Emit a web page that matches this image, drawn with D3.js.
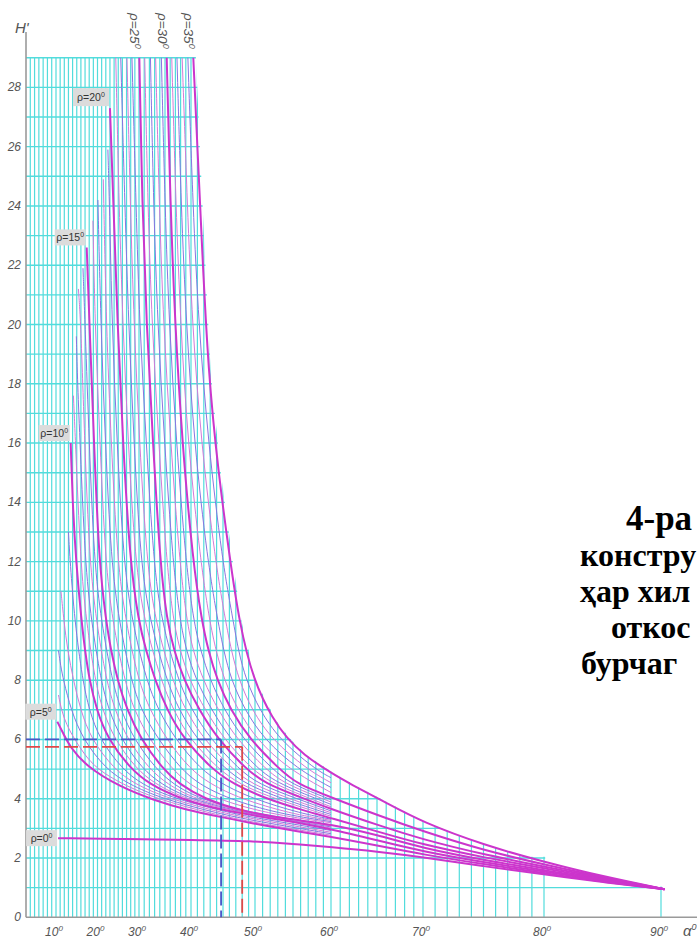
<!DOCTYPE html>
<html><head><meta charset="utf-8">
<script src="https://cdn.jsdelivr.net/npm/d3@7"></script>
<style>body{margin:0;background:#fff;overflow:hidden}svg{display:block}</style>
</head><body>
<svg id="c" width="697" height="940"></svg>
<script>
// ---------- data ----------
const xTicks = [10,20,30,40,50,60,70,80,90];
const yTicks = [0,2,4,6,8,10,12,14,16,18,20,22,24,26,28];
const gridAlphas = d3.range(4, 81).concat([90]);
const gridHeights = d3.range(1, 30);

// bold curves [alpha, H]
const rho0  = [[10.5,2.67],[27.4,2.64],[40,2.61],[49.7,2.57],[55,2.48],[60,2.37],[65,2.22],[70,2.03],[75,1.72],[80,1.45],[85,1.18],[90.3,0.95]];
const rho5  = [[10.31,6.6],[11.76,6.2],[13.37,5.75],[17.4,5.08],[25.42,4.4],[32.75,3.96],[39.17,3.62],[44.53,3.39],[51.97,3.05],[60,2.72],[65,2.42],[70,2.12],[75,1.79],[80,1.49],[85,1.2],[90.3,0.95]];
const rho10 = [[13.54,16],[14.0,14],[14.82,12],[16.14,10],[16.99,9],[18.07,8],[19.76,7],[22.53,6],[28.07,5],[31.92,4.5],[37.88,4],[44.84,3.6],[53.29,3.3],[60,2.98],[65,2.6],[70,2.22],[75,1.86],[80,1.54],[85,1.23],[90.3,0.95]];
const rho15 = [[17.4,22.6],[18.07,20],[19.16,16],[20.36,12],[22.05,10],[23.25,9],[24.82,8],[27.11,7],[30.38,6],[34.62,5],[37.69,4.5],[42.03,4.0],[47.66,3.6],[53.95,3.32],[60,3.15],[65,2.78],[70,2.33],[75,1.93],[80,1.59],[85,1.26],[90.3,0.95]];
const rho20 = [[23.0,27.3],[23.86,24],[24.82,20],[26.14,16],[27.83,12],[29.88,10],[31.35,9],[33.08,8],[35.38,7],[38.65,6],[43.28,5],[46.56,4.5],[51.45,4.0],[56.45,3.6],[60,3.35],[65,2.9],[70,2.45],[75,2.02],[80,1.65],[85,1.29],[90.3,0.95]];
const rho25 = [[30.06,29],[30.63,24],[31.44,20],[32.69,16],[34.04,12],[35.38,10],[36.73,9],[38.65,8],[41.25,7],[44.22,6],[48.59,5],[51.45,4.5],[55.5,4.1],[60,3.65],[65,3.12],[70,2.62],[75,2.12],[80,1.71],[85,1.32],[90.3,0.95]];
const rho30 = [[35.33,29],[36.04,24],[36.94,20],[38.31,16],[40.3,12],[41.69,10],[42.7,9],[44.09,8],[46.17,7],[49.19,6],[53.21,5],[55.5,4.5],[60,4.05],[65,3.45],[70,2.9],[75,2.26],[80,1.78],[85,1.35],[90.3,0.95]];
const rho35 = [[40.36,29],[41.0,26],[41.67,22.84],[42.7,18.36],[44.27,15],[46.1,12.06],[47.5,10],[49.7,8],[52.4,6.66],[54.2,6.05],[56.3,5.5],[60,4.87],[62.1,4.5],[66,3.86],[70,3.2],[75,2.44],[80,1.87],[85,1.38],[90.3,0.95]];

// thin curves (intermediate rho, 1 degree step)
const thin6  = [[10.6,7.5],[11.3,7],[12.5,6.5],[14.5,6],[16.8,5.5],[19.9,5],[25.8,4.5],[33.3,4],[43.1,3.5],[50,3.19],[60,2.77]];
const thin7  = [[10.6,9],[11.1,8.5],[11.8,8],[13.6,7],[16.5,6],[22,5],[27.4,4.5],[34.4,4],[44.3,3.5],[50,3.25],[60,2.82]];
const thin8  = [[11.2,11],[11.9,10],[12.8,9],[14.2,8],[15.9,7],[18.5,6],[24,5],[28.9,4.5],[35.6,4],[45.4,3.5],[50,3.31],[60,2.87]];
const thin9  = [[13,13],[13.4,12],[14.5,10],[16.4,8],[18,7],[20.5,6],[26,5],[30.4,4.5],[36.7,4],[46.6,3.5],[50,3.36],[60,2.93]];
const thin11 = [[14.2,17.6],[14.7,16],[15.9,12],[17.3,10],[19.4,8],[21.2,7],[24.1,6],[29.4,5],[33.1,4.5],[38.7,4],[48.1,3.5],[60,3.01]];
const thin12 = [[14.9,19.6],[15.2,18],[15.8,16],[17.0,12],[18.5,10],[20.8,8],[22.7,7],[25.7,6],[30.7,5],[34.2,4.5],[39.6,4],[48.6,3.5],[60,3.05]];
const thin13 = [[15.4,21.2],[16.0,20],[16.9,16],[18.1,12],[19.7,10],[22.1,8],[24.2,7],[27.2,6],[32,5],[35.4,4.5],[40.4,4],[49,3.5],[60,3.08]];
const thin14 = [[16.5,21.9],[17.0,20],[18.0,16],[19.2,12],[20.9,10],[23.5,8],[25.6,7],[28.8,6],[33.3,5],[36.5,4.5],[41.2,4],[49.5,3.5],[60,3.12]];
const thin16 = [[18.9,23.5],[19.4,20],[20.6,16],[21.9,12],[23.6,10],[26.5,8],[28.8,7],[32,6],[36.4,5],[39.5,4.5],[43.9,4],[51.5,3.5],[60,3.19]];
const thin17 = [[20.1,24.2],[20.8,20],[21.9,16],[23.3,12],[25.2,10],[28.1,8],[30.4,7],[33.7,6],[38.1,5],[41.2,4.5],[45.8,4],[53,3.5],[60,3.23]];
const thin18 = [[21.4,24.9],[22.1,20],[23.3,16],[24.8,12],[26.8,10],[29.8,8],[32.1,7],[35.3,6],[39.8,5],[43,4.5],[47.7,4],[54.6,3.5],[60,3.27]];
const thin19 = [[22.5,25.9],[22.9,24],[23.5,20],[24.7,16],[26.3,12],[28.3,10],[31.4,8],[33.7,7],[37,6],[41.5,5],[44.8,4.5],[49.6,4],[56.1,3.5],[60,3.31]];
const thin21 = [[24.4,29],[25.2,24],[26.1,20],[27.4,16],[29.1,12],[31,10],[34.2,8],[36.6,7],[39.8,6],[44.3,5],[47.5,4.5],[52.5,4],[60,3.41]];
const thin22 = [[25.6,29],[26.6,24],[27.5,20],[28.8,16],[30.3,12],[32.1,10],[35.3,8],[37.7,7],[40.9,6],[45.4,5],[48.5,4.5],[53.5,4],[60,3.47]];
const thin23 = [[27.1,29],[27.9,24],[28.8,20],[30.1,16],[31.5,12],[33.1,10],[36.4,8],[38.9,7],[42,6],[46.5,5],[49.4,4.5],[54.5,4],[60,3.53]];
const thin24 = [[28.3,29],[29.3,24],[30.1,20],[31.4,16],[32.8,12],[34.3,10],[37.5,8],[40.1,7],[43.1,6],[47.5,5],[50.4,4.5],[55.5,4],[60,3.59]];
const thin26 = [[31.1,29],[31.7,24],[32.5,20],[33.8,16],[35.3,12],[36.6,10],[37.9,9],[39.7,8],[42.2,7],[45.2,6],[49.5,5],[52.3,4.5],[60,3.73]];
const thin27 = [[32.2,29],[32.8,24],[33.6,20],[34.9,16],[36.5,12],[37.9,10],[39.1,9],[40.8,8],[43.2,7],[46.2,6],[50.4,5],[53.1,4.5],[60,3.81]];
const thin28 = [[33.2,29],[33.9,24],[34.7,20],[36.1,16],[37.8,12],[39.2,10],[40.3,9],[41.9,8],[44.2,7],[47.2,6],[51.4,5],[53.9,4.5],[60,3.89]];
const thin29 = [[34.3,29],[35.0,24],[35.8,20],[37.2,16],[39.0,12],[40.4,10],[41.5,9],[43.0,8],[45.2,7],[48.2,6],[52.3,5],[54.7,4.5],[60,3.97]];
const thin31 = [[36.3,29],[37.1,24],[38.0,20],[39.4,16],[41.5,12],[42.9,10],[43.9,9],[45.2,8],[47.3,7],[50.2,6],[54.4,5],[60,4.21]];
const thin32 = [[37.3,29],[38.1,24],[39.1,20],[40.5,16],[42.6,12],[44.2,10],[45.1,9],[46.3,8],[48.4,7],[51.2,6],[55.6,5],[60,4.38]];
const thin33 = [[38.3,29],[39.3,24],[40.2,20],[41.6,16],[43.8,12],[45.4,10],[46.3,9],[47.5,8],[49.5,7],[52.2,6],[56.8,5],[60,4.54]];
const thin34 = [[39.4,29],[40.3,24],[41.2,20],[42.7,16],[44.9,12],[46.6,10],[47.4,9],[48.6,8],[50.6,7],[53.2,6],[57.9,5],[60,4.71]];

const boldCurves = [
  {rho:0, pts:rho0}, {rho:5, pts:rho5}, {rho:10, pts:rho10}, {rho:15, pts:rho15},
  {rho:20, pts:rho20}, {rho:25, pts:rho25}, {rho:30, pts:rho30}, {rho:35, pts:rho35}];
const thinCurves = [
  {rho:6,pts:thin6},{rho:7,pts:thin7},{rho:8,pts:thin8},{rho:9,pts:thin9},
  {rho:11,pts:thin11},{rho:12,pts:thin12},{rho:13,pts:thin13},{rho:14,pts:thin14},
  {rho:16,pts:thin16},{rho:17,pts:thin17},{rho:18,pts:thin18},{rho:19,pts:thin19},
  {rho:21,pts:thin21},{rho:22,pts:thin22},{rho:23,pts:thin23},{rho:24,pts:thin24},
  {rho:26,pts:thin26},{rho:27,pts:thin27},{rho:28,pts:thin28},{rho:29,pts:thin29},
  {rho:31,pts:thin31},{rho:32,pts:thin32},{rho:33,pts:thin33},{rho:34,pts:thin34}];

const sideLabels = [0,5,10,15,20];   // boxed labels at curve starts
const topLabels = [25,30,35];        // rotated labels above the top line
const exampleBlue = {alpha:44.7, H:6.0};
const exampleRed  = {alpha:48.0, H:5.75};
const captionLines = ["4-ра","констру","ҳар хил","откос","бурчаг"];

// ---------- scales ----------
const x = d3.scaleLinear()
  .domain([3,10,20,30,40,50,60,70,80,90])
  .range([26,56,97.5,139,191,255,331,423,544,661]);
const y = d3.scaleLinear().domain([0,29]).range([917.3, 917.3-29*29.64]);

const svg = d3.select("#c");
const gridColor = "#52dcdc";

// ---------- grid clip (area under the outer curve) ----------
const defs = svg.append("defs");
const clip = defs.append("clipPath").attr("id","gridclip");
const edge = [[x(3), y(29)-1.5],[x(40.36)+2.5, y(29)-1.5]].concat(
  rho35.filter(d=>d[0]<=80 && d[1]<29).map(d=>[x(d[0])+2.5, y(d[1])]),
  [[x(80)+1, y(0)+2],[x(3), y(0)+2]]);
clip.append("path").attr("d", d3.line()(edge)+"Z");
clip.append("rect").attr("x",x(3)).attr("y",y(2)-1.2).attr("width",x(80)-x(3)+1.2).attr("height",y(0)-y(2)+3);
clip.append("rect").attr("x",x(3)).attr("y",y(1)-1.2).attr("width",x(90)-x(3)+1.2).attr("height",y(0)-y(1)+3);

const grid = svg.append("g").attr("clip-path","url(#gridclip)");
grid.selectAll("line.v").data(gridAlphas).join("line")
  .attr("x1",d=>x(d)).attr("x2",d=>x(d)).attr("y1",y(0)).attr("y2",y(29))
  .attr("stroke",gridColor).attr("stroke-width",1.2);
grid.selectAll("line.h").data(gridHeights).join("line")
  .attr("x1",x(3)).attr("x2",x(90.5)).attr("y1",d=>y(d)).attr("y2",d=>y(d))
  .attr("stroke",gridColor).attr("stroke-width",1.4);

// ---------- axes ----------
svg.append("line").attr("x1",x(3)).attr("x2",697).attr("y1",y(0)).attr("y2",y(0))
  .attr("stroke","#9a9a9a").attr("stroke-width",1.6);
svg.append("line").attr("x1",x(3)).attr("x2",x(3)).attr("y1",y(0)).attr("y2",32)
  .attr("stroke","#9a9a9a").attr("stroke-width",1.6);

const tickFont = "'Liberation Sans', Arial, sans-serif";
svg.selectAll("text.yt").data(yTicks).join("text")
  .attr("x",21).attr("y",d=>y(d)+4).attr("text-anchor","end")
  .attr("font-family",tickFont).attr("font-style","italic").attr("font-size",12)
  .attr("fill","#555").text(d=>d);

const xt = svg.selectAll("text.xt").data(xTicks).join("text")
  .attr("x",d=>x(d)-2).attr("y",936).attr("text-anchor","middle")
  .attr("font-family",tickFont).attr("font-style","italic").attr("font-size",12)
  .attr("fill","#555");
xt.append("tspan").text(d=>d);
xt.append("tspan").attr("dy",-5).attr("font-size",8).text("0");

const ax = svg.append("text").attr("x",683).attr("y",936)
  .attr("font-family",tickFont).attr("font-style","italic").attr("font-size",15).attr("fill","#555");
ax.append("tspan").text("α");
ax.append("tspan").attr("dy",-6).attr("font-size",9).text("0");

svg.append("text").attr("x",15).attr("y",33)
  .attr("font-family",tickFont).attr("font-style","italic").attr("font-size",15).attr("fill","#555")
  .text("H'");

// ---------- curves ----------
const line = d3.line().x(d=>x(d[0])).y(d=>y(d[1])).curve(d3.curveBasis);
svg.append("g").selectAll("path").data(thinCurves).join("path")
  .attr("d",d=>line(d.pts)).attr("fill","none")
  .attr("stroke",d=>(d.rho%5)%2===1 ? "#d27ad8" : "#8a74e0")
  .attr("stroke-width",1);
svg.append("g").selectAll("path").data(boldCurves).join("path")
  .attr("d",d=>line(d.pts)).attr("fill","none")
  .attr("stroke","#cc35cc").attr("stroke-width",2);

// ---------- example dashed lines ----------
function dashed(ex, color){
  const g = svg.append("g").attr("stroke",color).attr("stroke-width",1.8)
    .attr("stroke-dasharray","14,5").attr("fill","none");
  g.append("line").attr("x1",x(3)).attr("x2",x(ex.alpha)).attr("y1",y(ex.H)).attr("y2",y(ex.H));
  g.append("line").attr("x1",x(ex.alpha)).attr("x2",x(ex.alpha)).attr("y1",y(ex.H)).attr("y2",y(0));
}
dashed(exampleBlue,"#4a56c8");
dashed(exampleRed,"#e04848");

// ---------- rho labels ----------
const byRho = Object.fromEntries(boldCurves.map(c=>[c.rho,c.pts]));
sideLabels.forEach(r=>{
  const p = byRho[r][0];
  const px = x(p[0]), py = y(p[1]);
  const h = r===20 ? 18 : 16;
  const w = r===20 ? 36 : 31;
  const top = r===0 ? py - h/2 : py - h - 2;
  const g = svg.append("g");
  g.append("rect").attr("x",px-w-1).attr("y",top).attr("width",w).attr("height",h).attr("fill","#dcdcdc");
  const t = g.append("text").attr("x",px-w/2-1).attr("y",top+h/2+4).attr("text-anchor","middle")
    .attr("font-family",tickFont).attr("font-size",10.5).attr("fill","#333");
  t.append("tspan").text("ρ="+r);
  t.append("tspan").attr("dy",-4).attr("font-size",7).text("0");
});
topLabels.forEach(r=>{
  const p = byRho[r][0];
  const t = svg.append("text")
    .attr("transform",`translate(${x(p[0])-9},13) rotate(90)`)
    .attr("font-family",tickFont).attr("font-style","italic").attr("font-size",13.5).attr("fill","#555");
  t.append("tspan").text("ρ="+r);
  t.append("tspan").attr("dy",-5).attr("font-size",9).text("0");
});

// ---------- caption (right side) ----------
const capX = [626,580,580,611,581];
const capSize = [35,32,32,32,32];
svg.selectAll("text.cap").data(captionLines).join("text")
  .attr("x",(d,i)=>capX[i]).attr("y",(d,i)=>530+i*36)
  .attr("font-family","'Liberation Serif','Times New Roman',serif")
  .attr("font-weight","bold").attr("font-size",(d,i)=>capSize[i]).attr("fill","#000").text(d=>d);
</script>
</body></html>
